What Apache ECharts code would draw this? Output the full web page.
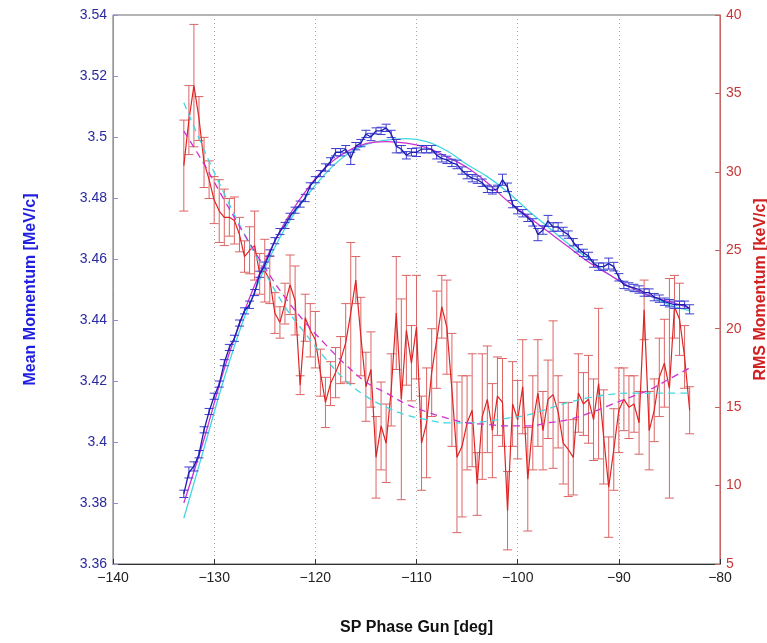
<!DOCTYPE html>
<html>
<head>
<meta charset="utf-8">
<script src="https://cdn.jsdelivr.net/npm/echarts@6/dist/echarts.min.js"></script>
<style>
  html, body { margin: 0; padding: 0; background: #fff; }
  #grafico { width: 767px; height: 643px; }
</style>
</head>
<body>
<div id="grafico"></div>
<script>
// fase do canhao (graus) - mesma grade para as duas medidas
const fase = [
  -133, -132.5, -132, -131.5, -131, -130.5, -130, -129.5, -129, -128.5,
  -128, -127.5, -127, -126.5, -126, -125.5, -125, -124.5, -124, -123.5,
  -123, -122.5, -122, -121.5, -121, -120.5, -120, -119.5, -119, -118.5,
  -118, -117.5, -117, -116.5, -116, -115.5, -115, -114.5, -114, -113.5,
  -113, -112.5, -112, -111.5, -111, -110.5, -110, -109.5, -109, -108.5,
  -108, -107.5, -107, -106.5, -106, -105.5, -105, -104.5, -104, -103.5,
  -103, -102.5, -102, -101.5, -101, -100.5, -100, -99.5, -99, -98.5,
  -98, -97.5, -97, -96.5, -96, -95.5, -95, -94.5, -94, -93.5,
  -93, -92.5, -92, -91.5, -91, -90.5, -90, -89.5, -89, -88.5,
  -88, -87.5, -87, -86.5, -86, -85.5, -85, -84.5, -84, -83.5,
  -83
];

// momento medio (MeV/c) e erro
const momentoMedio = [
  3.383, 3.390, 3.392, 3.396, 3.404, 3.410, 3.415, 3.419, 3.426, 3.431,
  3.434, 3.439, 3.443, 3.445, 3.449, 3.455, 3.458, 3.462, 3.466, 3.469,
  3.471, 3.474, 3.476, 3.478, 3.480, 3.484, 3.486, 3.488, 3.490, 3.492,
  3.495, 3.495, 3.496, 3.493, 3.497, 3.498, 3.501, 3.500, 3.502, 3.502,
  3.503, 3.501, 3.497, 3.496, 3.494, 3.495, 3.495, 3.496, 3.496, 3.496,
  3.494, 3.493, 3.4925, 3.4915, 3.491, 3.489, 3.4875, 3.4865, 3.486, 3.485,
  3.483, 3.4825, 3.483, 3.486, 3.4835, 3.478, 3.476, 3.475, 3.4735, 3.472,
  3.468, 3.4695, 3.4725, 3.4705, 3.4705, 3.469, 3.468, 3.4655, 3.4635, 3.462,
  3.461, 3.4585, 3.4575, 3.4575, 3.4585, 3.4575, 3.454, 3.4515, 3.451, 3.4505,
  3.450, 3.449, 3.449, 3.4475, 3.447, 3.446, 3.4455, 3.445, 3.445, 3.445,
  3.4435
];
const erroMedio = [
  0.0012, 0.0018, 0.0015, 0.0012, 0.0010, 0.0010, 0.0010, 0.0010, 0.0010, 0.0010,
  0.0010, 0.0010, 0.0010, 0.0012, 0.0010, 0.0010, 0.0010, 0.0010, 0.0010, 0.0010,
  0.0010, 0.0010, 0.0010, 0.0010, 0.0012, 0.0010, 0.0010, 0.0010, 0.0012, 0.0012,
  0.0012, 0.0012, 0.0012, 0.0020, 0.0012, 0.0012, 0.0012, 0.0012, 0.0010, 0.0012,
  0.0012, 0.0012, 0.0022, 0.0012, 0.0012, 0.0012, 0.0014, 0.0012, 0.0012, 0.0012,
  0.0012, 0.0012, 0.0012, 0.0012, 0.0014, 0.0012, 0.0012, 0.0012, 0.0012, 0.0012,
  0.0012, 0.0012, 0.0012, 0.0018, 0.0014, 0.0012, 0.0012, 0.0012, 0.0012, 0.0012,
  0.0020, 0.0014, 0.0018, 0.0014, 0.0014, 0.0014, 0.0012, 0.0012, 0.0012, 0.0012,
  0.0012, 0.0012, 0.0012, 0.0012, 0.0018, 0.0014, 0.0012, 0.0012, 0.0012, 0.0012,
  0.0012, 0.0012, 0.0012, 0.0012, 0.0012, 0.0012, 0.0012, 0.0012, 0.0012, 0.0012,
  0.0015
];

// momento RMS (keV/c) e erro
const momentoRms = [
  30.4, 33.3, 35.5, 33.4, 30.6, 29.5, 28.2, 27.5, 27.1, 27.1,
  26.9, 26.0, 24.6, 25.0, 25.3, 23.5, 23.7, 23.1, 21.0, 20.4,
  21.6, 22.8, 21.8, 16.4, 20.7, 19.9, 19.3, 17.2, 15.3, 16.5,
  17.2, 18.0, 19.1, 21.0, 23.1, 19.5, 16.3, 17.4, 11.8, 13.8,
  12.7, 16.1, 21.0, 15.5, 19.9, 17.8, 20.1, 12.7, 14.0, 17.2,
  19.3, 21.4, 20.1, 16.1, 11.8, 12.5, 14.0, 14.8, 10.1, 14.4,
  15.5, 13.5, 15.7, 15.3, 8.4, 15.2, 14.2, 16.3, 10.4, 14.0,
  15.9, 13.5, 15.5, 15.8, 14.7, 12.7, 12.3, 11.8, 15.9, 15.2,
  15.5, 14.2, 16.5, 13.1, 9.9, 12.3, 14.8, 15.5, 15.0, 15.2,
  14.0, 21.2, 13.5, 14.8, 16.9, 17.8, 16.2, 21.4, 20.6, 18.2,
  14.8
];
const erroRms = [
  2.9, 2.2, 3.9, 1.4, 1.6, 1.2, 1.5, 2.0, 1.8, 1.2,
  1.5, 1.1, 1.0, 1.5, 2.2, 1.3, 2.0, 1.5, 1.3, 1.0,
  1.3, 1.9, 2.2, 0.6, 1.5, 1.7, 1.8, 1.5, 1.6, 1.4,
  1.6, 1.5, 2.5, 4.5, 1.5, 2.5, 2.2, 2.4, 2.6, 2.8,
  2.5, 2.3, 3.6, 6.4, 3.5, 2.4, 3.3, 3.0, 3.5, 2.8,
  3.1, 2.0, 3.0, 3.6, 4.8, 4.5, 3.0, 3.6, 2.0, 4.0,
  3.4, 3.0, 2.5, 2.8, 2.5, 2.7, 2.5, 3.0, 3.3, 3.0,
  3.4, 2.5, 2.5, 4.7, 2.3, 2.6, 3.0, 2.4, 2.5, 2.0,
  2.8, 2.6, 4.8, 3.0, 3.2, 2.6, 2.7, 2.0, 2.0, 1.8,
  2.0, 1.9, 2.5, 2.0, 2.5, 2.8, 7.0, 2.0, 2.3, 2.0,
  1.5
];

// curvas de ajuste
const faseAjuste = [-133, -131, -129, -127, -125, -123, -121, -119, -117, -115, -113, -111, -109,
  -107, -105, -103, -101, -99, -97, -95, -93, -91, -89, -87, -85, -83];
const ajusteMedioCiano = [3.375, 3.398, 3.421, 3.441, 3.457, 3.470, 3.480, 3.488, 3.494, 3.4975, 3.499, 3.4995, 3.4985,
  3.4955, 3.491, 3.487, 3.482, 3.476, 3.4705, 3.465, 3.460, 3.455, 3.451, 3.448, 3.445, 3.443];
const ajusteMedioMagenta = [3.380, 3.401, 3.424, 3.443, 3.459, 3.472, 3.482, 3.490, 3.495, 3.4978, 3.4985, 3.498, 3.4965,
  3.4935, 3.490, 3.485, 3.479, 3.474, 3.469, 3.464, 3.459, 3.455, 3.451, 3.448, 3.446, 3.444];
const ajusteRmsCiano = [34.4, 31.4, 28.6, 26.0, 23.6, 21.4, 19.7, 18.1, 16.7, 15.7, 15.0, 14.5, 14.2,
  14.0, 14.0, 14.1, 14.3, 14.5, 14.9, 15.3, 15.6, 15.8, 15.9, 15.9, 15.9, 15.9];
const ajusteRmsMagenta = [32.6, 30.5, 28.2, 26.0, 23.9, 22.0, 20.4, 19.0, 17.7, 16.6, 15.9, 15.2, 14.7,
  14.3, 14.0, 13.9, 13.8, 13.8, 14.0, 14.2, 14.6, 15.1, 15.6, 16.1, 16.8, 17.5];

const fonte = "'Liberation Sans', Arial, sans-serif";

function pares(xs, ys) {
  return xs.map((x, i) => [x, ys[i]]);
}

function triplas(xs, ys, es) {
  return xs.map((x, i) => [x, ys[i], es[i]]);
}

// barra de erro vertical com tampas
function barrasErro(cor, larguraCap) {
  return function (params, api) {
    const x = api.value(0), y = api.value(1), e = api.value(2);
    const topo = api.coord([x, y + e]);
    const base = api.coord([x, y - e]);
    const m = larguraCap / 2;
    const estilo = { stroke: cor, lineWidth: 1 };
    return {
      type: "group",
      children: [
        { type: "line", shape: { x1: topo[0], y1: topo[1], x2: base[0], y2: base[1] }, style: estilo },
        { type: "line", shape: { x1: topo[0] - m, y1: topo[1], x2: topo[0] + m, y2: topo[1] }, style: estilo },
        { type: "line", shape: { x1: base[0] - m, y1: base[1], x2: base[0] + m, y2: base[1] }, style: estilo }
      ]
    };
  };
}

const chart = echarts.init(document.getElementById("grafico"));

const option = {
  animation: false,
  backgroundColor: "#fff",
  grid: {
    left: 113, right: 47, top: 15, bottom: 79,
    outerBoundsMode: "none",
    show: true, borderColor: "#6a6a6a", borderWidth: 1
  },
  xAxis: {
    type: "value",
    min: -140, max: -80, interval: 10,
    name: "SP Phase Gun [deg]",
    nameLocation: "middle",
    nameGap: 56,
    nameTextStyle: { color: "#111", fontWeight: "bold", fontSize: 16, fontFamily: fonte },
    axisLine: { onZero: false, lineStyle: { color: "#333", width: 1 } },
    axisTick: { inside: true, length: 5, lineStyle: { color: "#333" } },
    axisLabel: {
      color: "#222", fontSize: 14, fontFamily: fonte, margin: 7,
      formatter: v => String(v).replace("-", "\u2212")
    },
    splitLine: { show: true, lineStyle: { color: "#a8a8a8", type: [1, 3], width: 1 } }
  },
  yAxis: [
    {
      type: "value",
      position: "left",
      min: 3.36, max: 3.54, interval: 0.02,
      name: "Mean Momentum [MeV/c]",
      nameLocation: "middle",
      nameGap: 74,
      nameTextStyle: { color: "#1f1fe0", fontWeight: "bold", fontSize: 16, fontFamily: fonte },
      axisLine: { show: true, lineStyle: { color: "#8c8ce0", width: 1 } },
      axisTick: { inside: true, length: 5, lineStyle: { color: "#8c8ce0" } },
      axisLabel: { color: "#2a2aa0", fontSize: 14, fontFamily: fonte, margin: 6 },
      splitLine: { show: false }
    },
    {
      type: "value",
      position: "right",
      min: 5, max: 40, interval: 5,
      name: "RMS Momentum [keV/c]",
      nameLocation: "middle",
      nameGap: 26,
      nameTextStyle: { color: "#d02020", fontWeight: "bold", fontSize: 16, fontFamily: fonte },
      axisLine: { show: true, lineStyle: { color: "#c86464", width: 1 } },
      axisTick: { inside: true, length: 5, lineStyle: { color: "#c86464" } },
      axisLabel: { color: "#c83838", fontSize: 14, fontFamily: fonte, margin: 6 },
      splitLine: { show: false }
    }
  ],
  series: [
    {
      name: "erro rms", type: "custom", yAxisIndex: 1, silent: true, z: 2,
      renderItem: barrasErro("#dc6464", 9),
      data: triplas(fase, momentoRms, erroRms)
    },
    {
      name: "rms", type: "line", yAxisIndex: 1, showSymbol: false, z: 3,
      lineStyle: { color: "#e02424", width: 1.2 },
      data: pares(fase, momentoRms)
    },
    {
      name: "ajuste rms ciano", type: "line", yAxisIndex: 1, showSymbol: false, smooth: 0.4, z: 4,
      lineStyle: { color: "#40d8e0", width: 1.3, type: [7, 5] },
      data: pares(faseAjuste, ajusteRmsCiano)
    },
    {
      name: "ajuste rms magenta", type: "line", yAxisIndex: 1, showSymbol: false, smooth: 0.4, z: 4,
      lineStyle: { color: "#d030d0", width: 1.3, type: [7, 5] },
      data: pares(faseAjuste, ajusteRmsMagenta)
    },
    {
      name: "ajuste medio ciano", type: "line", yAxisIndex: 0, showSymbol: false, smooth: 0.4, z: 4,
      lineStyle: { color: "#40d8e0", width: 1.3 },
      data: pares(faseAjuste, ajusteMedioCiano)
    },
    {
      name: "ajuste medio magenta", type: "line", yAxisIndex: 0, showSymbol: false, smooth: 0.4, z: 4,
      lineStyle: { color: "#d030d0", width: 1.3 },
      data: pares(faseAjuste, ajusteMedioMagenta)
    },
    {
      name: "erro medio", type: "custom", yAxisIndex: 0, silent: true, z: 5,
      renderItem: barrasErro("#3c3cd0", 9),
      data: triplas(fase, momentoMedio, erroMedio)
    },
    {
      name: "medio", type: "line", yAxisIndex: 0, showSymbol: false, z: 6,
      lineStyle: { color: "#1c1cb0", width: 1.3 },
      data: pares(fase, momentoMedio)
    }
  ]
};

chart.setOption(option);
</script>
</body>
</html>
